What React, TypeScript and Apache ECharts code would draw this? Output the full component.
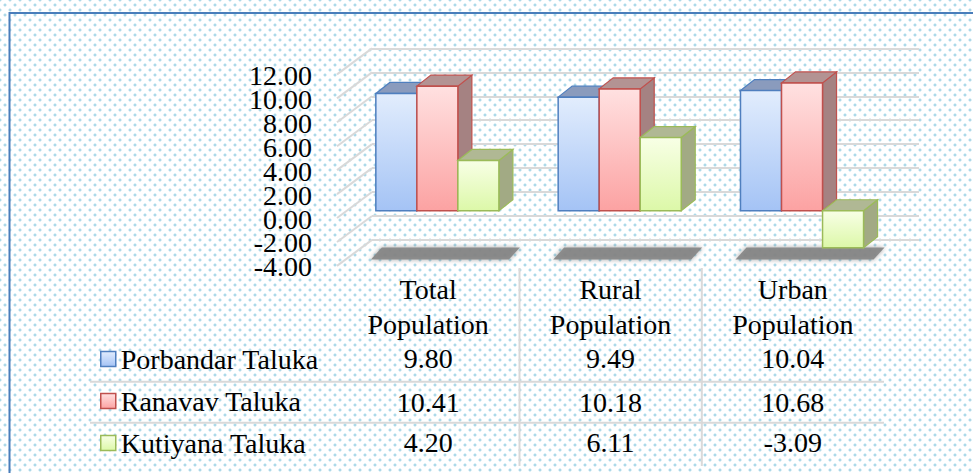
import React, { useEffect, useRef } from 'react';
import * as echarts from 'echarts';

// ---------- data ----------
const categories = ['Total Population', 'Rural Population', 'Urban Population'];
const seriesNames = ['Porbandar Taluka', 'Ranavav Taluka', 'Kutiyana Taluka'];
const porbandar = [9.8, 9.49, 10.04];
const ranavav = [10.41, 10.18, 10.68];
const kutiyana = [4.2, 6.11, -3.09];
const yTicks = [-4, -2, 0, 2, 4, 6, 8, 10, 12];
const Y_MIN = -4;
const Y_MAX = 12;
const Y_STEP = 2;

// ---------- style ----------
const FONT = 'Liberation Serif';
const GRID_LINE = '#d9d9d9';
const DEPTH_DX = 14;
const DEPTH_DY = -11;
const WALL_DX = 35;
const WALL_DY = -26;
const BAR_FRAC = 0.225;

const palette = [
  { top: '#e2edfd', bottom: '#a4c3f5', border: '#4f7fbf', cap: '#8a9bbd', side: '#7e92b6' },
  { top: '#ffe1e1', bottom: '#fca2a2', border: '#c0504d', cap: '#b39393', side: '#a58282' },
  { top: '#f8ffe6', bottom: '#dcf8a8', border: '#9bbb59', cap: '#b0b894', side: '#a2aa84' },
];

const grad = (c: { top: string; bottom: string }) =>
  new echarts.graphic.LinearGradient(0, 0, 0, 1, [
    { offset: 0, color: c.top },
    { offset: 1, color: c.bottom },
  ]);

const textBase = { color: '#000', fontFamily: FONT, fontSize: 28 };

export default function App() {
  const ref = useRef<HTMLDivElement>(null);

  useEffect(() => {
    if (!ref.current) return;
    const chart = echarts.init(ref.current, null, { renderer: 'svg', width: 973, height: 473 });
    const allValues = [porbandar, ranavav, kutiyana];

    const renderBar = (s: number) => (params: any, api: any) => {
      const ci = api.value(0);
      const v = api.value(1);
      const p0 = api.coord([ci, 0]);
      const p1 = api.coord([ci, v]);
      const band = api.size([1, 0])[0];
      const bw = band * BAR_FRAC;
      const x0 = p0[0] + (s - 1.5) * bw;
      const yTop = Math.min(p0[1], p1[1]);
      const yBot = Math.max(p0[1], p1[1]);
      const c = palette[s];
      return {
        type: 'group',
        children: [
          {
            type: 'polygon',
            shape: { points: [[x0 + bw, yTop], [x0 + bw + DEPTH_DX, yTop + DEPTH_DY], [x0 + bw + DEPTH_DX, yBot + DEPTH_DY], [x0 + bw, yBot]] },
            style: { fill: c.side, stroke: c.border, lineWidth: 1.2 },
          },
          {
            type: 'polygon',
            shape: { points: [[x0, yTop], [x0 + DEPTH_DX, yTop + DEPTH_DY], [x0 + bw + DEPTH_DX, yTop + DEPTH_DY], [x0 + bw, yTop]] },
            style: { fill: c.cap, stroke: c.border, lineWidth: 1.2 },
          },
          {
            type: 'rect',
            shape: { x: x0, y: yTop, width: bw, height: yBot - yTop },
            style: { fill: grad(c), stroke: c.border, lineWidth: 1.5 },
          },
        ],
      };
    };

    const renderShadow = (params: any, api: any) => {
      const ci = api.value(0);
      const p = api.coord([ci, api.value(1)]);
      const band = api.size([1, 0])[0];
      const hw = band * BAR_FRAC * 1.5;
      const cx = p[0];
      const y = p[1];
      return {
        type: 'polygon',
        shape: { points: [[cx - hw - 5, y + 1], [cx + hw + 10, y + 1], [cx + hw + 21, y - 11], [cx - hw + 6, y - 11]] },
        style: { fill: '#858585', opacity: 0.9, shadowBlur: 5, shadowColor: 'rgba(80,80,80,0.6)' },
      };
    };

    const renderWall = (params: any, api: any) => {
      const p = api.coord([0, api.value(1)]);
      const x0 = params.coordSys.x;
      return {
        type: 'line',
        shape: { x1: x0, y1: p[1], x2: x0 + WALL_DX, y2: p[1] + WALL_DY },
        style: { stroke: GRID_LINE, lineWidth: 2 },
      };
    };

    const renderTick = (params: any, api: any) => {
      const v = api.value(1);
      const p = api.coord([0, v]);
      const x0 = params.coordSys.x;
      return {
        type: 'text',
        x: x0 - 25,
        y: p[1] + 1,
        style: {
          text: v.toFixed(2),
          fontFamily: FONT,
          fontSize: 28,
          fill: '#000',
          align: 'right',
          verticalAlign: 'middle',
        },
      };
    };

    const hiddenAxisParts = {
      axisLine: { show: false, onZero: false },
      axisTick: { show: false },
      splitLine: { show: false },
    };

    const rowAxis = (vals: number[], offset: number) => ({
      type: 'category',
      gridIndex: 0,
      position: 'bottom',
      offset,
      data: vals.map((v) => v.toFixed(2)),
      ...hiddenAxisParts,
      axisLabel: { ...textBase, interval: 0, margin: 0, lineHeight: 28 },
    });

    const option: any = {
      animation: false,
      backgroundColor: 'transparent',
      grid: [
        // front plane (tick labels, table columns)
        { left: 337, right: 89, top: 74.4, bottom: 207.1, containLabel: false, outerBoundsMode: 'none' },
        // back wall
        { left: 372, right: 54, top: 48.4, bottom: 233.1, containLabel: false, outerBoundsMode: 'none' },
        // bar plane
        { left: 346.2, right: 79.8, top: 67.1, bottom: 214.4, containLabel: false, outerBoundsMode: 'none' },
      ],
      xAxis: [
        {
          type: 'category',
          gridIndex: 0,
          position: 'bottom',
          data: categories,
          ...hiddenAxisParts,
          axisLabel: { ...textBase, interval: 0, margin: 6, lineHeight: 35, formatter: (v: string) => v.replace(' ', '\n') },
        },
        rowAxis(porbandar, 79),
        rowAxis(ranavav, 122.3),
        rowAxis(kutiyana, 163),
        { type: 'category', gridIndex: 1, data: categories, show: false },
        { type: 'category', gridIndex: 2, data: categories, show: false },
      ],
      yAxis: [
        { type: 'value', gridIndex: 0, min: Y_MIN, max: Y_MAX, interval: Y_STEP, ...hiddenAxisParts, axisLabel: { show: false } },
        {
          type: 'value', gridIndex: 1, min: Y_MIN, max: Y_MAX, interval: Y_STEP,
          axisLine: { show: false }, axisTick: { show: false }, axisLabel: { show: false },
          splitLine: { show: true, lineStyle: { color: GRID_LINE, width: 2 } },
        },
        { type: 'value', gridIndex: 2, min: Y_MIN, max: Y_MAX, interval: Y_STEP, show: false, splitLine: { show: false } },
      ],
      legend: {
        orient: 'vertical',
        left: 100,
        top: 345,
        padding: 0,
        itemGap: 14,
        itemWidth: 15,
        itemHeight: 15,
        selectedMode: false,
        textStyle: { ...textBase, lineHeight: 28 },
        data: seriesNames.map((n, s) => ({
          name: n,
          icon: 'rect',
          itemStyle: { color: grad(palette[s]), borderColor: palette[s].border, borderWidth: 1.5 },
        })),
      },
      series: [
        { type: 'custom', name: 'wall', xAxisIndex: 0, yAxisIndex: 0, z: 1, silent: true, renderItem: renderWall, data: yTicks.map((v) => [0, v]) },
        { type: 'custom', name: 'tick labels', xAxisIndex: 0, yAxisIndex: 0, z: 5, silent: true, renderItem: renderTick, data: yTicks.map((v) => [0, v]) },
        { type: 'custom', name: 'floor shadow', xAxisIndex: 5, yAxisIndex: 2, z: 2, silent: true, renderItem: renderShadow, data: categories.map((_, i) => [i, Y_MIN]) },
        ...seriesNames.map((n, s) => ({
          type: 'custom',
          name: n,
          xAxisIndex: 5,
          yAxisIndex: 2,
          z: 3,
          silent: true,
          itemStyle: { color: palette[s].bottom, borderColor: palette[s].border },
          renderItem: renderBar(s),
          data: allValues[s].map((v, i) => [i, v]),
        })),
      ],
      graphic: [
        { type: 'rect', z: 10, silent: true, shape: { x: 9.5, y: 13, width: 1000, height: 500 }, style: { fill: 'none', stroke: '#4a7ebb', lineWidth: 2 } },
        { type: 'line', silent: true, shape: { x1: 90, y1: 381.7, x2: 884, y2: 381.7 }, style: { stroke: GRID_LINE, lineWidth: 2 } },
        { type: 'line', silent: true, shape: { x1: 90, y1: 422.7, x2: 884, y2: 422.7 }, style: { stroke: GRID_LINE, lineWidth: 2 } },
        { type: 'line', silent: true, shape: { x1: 519.5, y1: 268, x2: 519.5, y2: 466 }, style: { stroke: GRID_LINE, lineWidth: 2 } },
        { type: 'line', silent: true, shape: { x1: 701.8, y1: 268, x2: 701.8, y2: 466 }, style: { stroke: GRID_LINE, lineWidth: 2 } },
      ],
    };

    chart.setOption(option);
    return () => chart.dispose();
  }, []);

  return (
    <div
      style={{
        position: 'fixed',
        left: 0,
        top: 0,
        width: 973,
        height: 473,
        backgroundColor: '#ffffff',
        backgroundImage:
          'radial-gradient(circle, #acd9e9 1.2px, rgba(255,255,255,0) 1.8px), radial-gradient(circle, #acd9e9 1.2px, rgba(255,255,255,0) 1.8px)',
        backgroundSize: '10px 10px',
        backgroundPosition: '0 0, 5px 5px',
      }}
    >
      <div ref={ref} style={{ width: 973, height: 473 }} />
    </div>
  );
}
